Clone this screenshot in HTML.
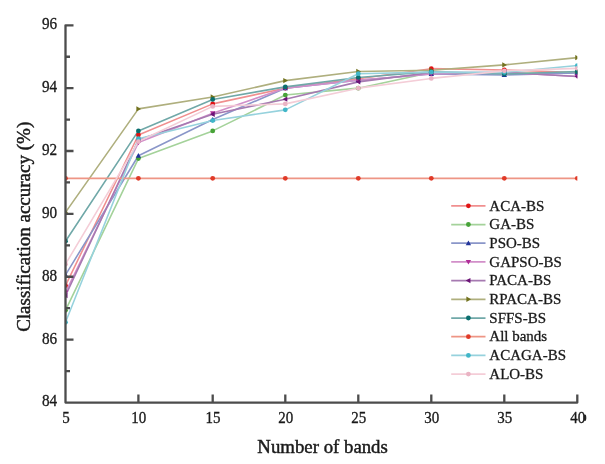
<!DOCTYPE html><html><head><meta charset="utf-8"><style>html,body{margin:0;padding:0;background:#fff;}svg{display:block;filter:blur(0.6px);}text{font-family:"Liberation Serif",serif;fill:#1a1a1a;stroke:#1a1a1a;stroke-width:0.3px;}</style></head><body>
<svg width="605" height="464" viewBox="0 0 605 464">
<rect width="605" height="464" fill="#fff"/>
<g clip-path="url(#c)">
<defs><clipPath id="c"><rect x="65.5" y="0" width="511.8" height="402.6"/></clipPath></defs>
<polyline points="65.50,285.54 138.40,134.99 212.70,103.88 285.30,88.16 358.30,78.73 431.30,68.67 504.30,69.93 577.30,72.44" fill="none" stroke="#f08f8f" stroke-width="1.6" stroke-linejoin="round"/>
<polyline points="65.50,310.37 138.40,158.56 212.70,130.90 285.30,95.07 358.30,88.16 431.30,72.44 504.30,73.39 577.30,72.44" fill="none" stroke="#a4d29a" stroke-width="1.6" stroke-linejoin="round"/>
<polyline points="65.50,274.85 138.40,155.73 212.70,119.59 285.30,88.16 358.30,80.30 431.30,74.02 504.30,74.96 577.30,73.07" fill="none" stroke="#8a96c9" stroke-width="1.6" stroke-linejoin="round"/>
<polyline points="65.50,292.45 138.40,142.53 212.70,113.30 285.30,88.16 358.30,80.30 431.30,74.02 504.30,72.44 577.30,76.53" fill="none" stroke="#d28fc9" stroke-width="1.6" stroke-linejoin="round"/>
<polyline points="65.50,295.60 138.40,140.02 212.70,114.25 285.30,99.16 358.30,81.87 431.30,72.44 504.30,72.44 577.30,76.53" fill="none" stroke="#a67ab1" stroke-width="1.6" stroke-linejoin="round"/>
<polyline points="65.50,212.31 138.40,108.90 212.70,96.96 285.30,80.62 358.30,71.50 431.30,70.24 504.30,64.90 577.30,57.67" fill="none" stroke="#afaf7e" stroke-width="1.6" stroke-linejoin="round"/>
<polyline points="65.50,241.22 138.40,130.90 212.70,99.47 285.30,86.90 358.30,77.47 431.30,71.82 504.30,74.02 577.30,71.50" fill="none" stroke="#70a8a8" stroke-width="1.6" stroke-linejoin="round"/>
<polyline points="65.50,178.36 138.40,178.36 212.70,178.36 285.30,178.36 358.30,178.36 431.30,178.36 504.30,178.36 577.30,178.36" fill="none" stroke="#ee9585" stroke-width="1.6" stroke-linejoin="round"/>
<polyline points="65.50,322.31 138.40,138.76 212.70,120.53 285.30,109.85 358.30,73.70 431.30,72.13 504.30,72.44 577.30,65.53" fill="none" stroke="#96d2dd" stroke-width="1.6" stroke-linejoin="round"/>
<polyline points="65.50,264.17 138.40,141.59 212.70,106.39 285.30,103.88 358.30,88.16 431.30,78.42 504.30,70.87 577.30,68.36" fill="none" stroke="#f4cdd7" stroke-width="1.6" stroke-linejoin="round"/>
<circle cx="65.50" cy="285.54" r="2.4" fill="#e01414"/>
<circle cx="138.40" cy="134.99" r="2.4" fill="#e01414"/>
<circle cx="212.70" cy="103.88" r="2.4" fill="#e01414"/>
<circle cx="285.30" cy="88.16" r="2.4" fill="#e01414"/>
<circle cx="358.30" cy="78.73" r="2.4" fill="#e01414"/>
<circle cx="431.30" cy="68.67" r="2.4" fill="#e01414"/>
<circle cx="504.30" cy="69.93" r="2.4" fill="#e01414"/>
<circle cx="577.30" cy="72.44" r="2.4" fill="#e01414"/>
<circle cx="65.50" cy="310.37" r="2.4" fill="#47a338"/>
<circle cx="138.40" cy="158.56" r="2.4" fill="#47a338"/>
<circle cx="212.70" cy="130.90" r="2.4" fill="#47a338"/>
<circle cx="285.30" cy="95.07" r="2.4" fill="#47a338"/>
<circle cx="358.30" cy="88.16" r="2.4" fill="#47a338"/>
<circle cx="431.30" cy="72.44" r="2.4" fill="#47a338"/>
<circle cx="504.30" cy="73.39" r="2.4" fill="#47a338"/>
<circle cx="577.30" cy="72.44" r="2.4" fill="#47a338"/>
<polygon points="65.50,272.15 62.80,276.88 68.20,276.88" fill="#22349a"/>
<polygon points="138.40,153.03 135.70,157.76 141.10,157.76" fill="#22349a"/>
<polygon points="212.70,116.89 210.00,121.61 215.40,121.61" fill="#22349a"/>
<polygon points="285.30,85.46 282.60,90.19 288.00,90.19" fill="#22349a"/>
<polygon points="358.30,77.60 355.60,82.33 361.00,82.33" fill="#22349a"/>
<polygon points="431.30,71.32 428.60,76.04 434.00,76.04" fill="#22349a"/>
<polygon points="504.30,72.26 501.60,76.98 507.00,76.98" fill="#22349a"/>
<polygon points="577.30,70.37 574.60,75.10 580.00,75.10" fill="#22349a"/>
<polygon points="65.50,295.15 62.80,290.43 68.20,290.43" fill="#b02c98"/>
<polygon points="138.40,145.23 135.70,140.51 141.10,140.51" fill="#b02c98"/>
<polygon points="212.70,116.00 210.00,111.28 215.40,111.28" fill="#b02c98"/>
<polygon points="285.30,90.86 282.60,86.13 288.00,86.13" fill="#b02c98"/>
<polygon points="358.30,83.00 355.60,78.28 361.00,78.28" fill="#b02c98"/>
<polygon points="431.30,76.72 428.60,71.99 434.00,71.99" fill="#b02c98"/>
<polygon points="504.30,75.14 501.60,70.42 507.00,70.42" fill="#b02c98"/>
<polygon points="577.30,79.23 574.60,74.51 580.00,74.51" fill="#b02c98"/>
<polygon points="62.80,295.60 67.53,292.90 67.53,298.30" fill="#6c1477"/>
<polygon points="135.70,140.02 140.43,137.32 140.43,142.72" fill="#6c1477"/>
<polygon points="210.00,114.25 214.72,111.55 214.72,116.95" fill="#6c1477"/>
<polygon points="282.60,99.16 287.32,96.46 287.32,101.86" fill="#6c1477"/>
<polygon points="355.60,81.87 360.32,79.17 360.32,84.57" fill="#6c1477"/>
<polygon points="428.60,72.44 433.32,69.74 433.32,75.14" fill="#6c1477"/>
<polygon points="501.60,72.44 506.32,69.74 506.32,75.14" fill="#6c1477"/>
<polygon points="574.60,76.53 579.32,73.83 579.32,79.23" fill="#6c1477"/>
<polygon points="68.20,212.31 63.48,209.61 63.48,215.01" fill="#72721e"/>
<polygon points="141.10,108.90 136.38,106.20 136.38,111.60" fill="#72721e"/>
<polygon points="215.40,96.96 210.67,94.26 210.67,99.66" fill="#72721e"/>
<polygon points="288.00,80.62 283.28,77.92 283.28,83.32" fill="#72721e"/>
<polygon points="361.00,71.50 356.28,68.80 356.28,74.20" fill="#72721e"/>
<polygon points="434.00,70.24 429.28,67.54 429.28,72.94" fill="#72721e"/>
<polygon points="507.00,64.90 502.28,62.20 502.28,67.60" fill="#72721e"/>
<polygon points="580.00,57.67 575.27,54.97 575.27,60.37" fill="#72721e"/>
<circle cx="65.50" cy="241.22" r="2.4" fill="#0a6e6e"/>
<circle cx="138.40" cy="130.90" r="2.4" fill="#0a6e6e"/>
<circle cx="212.70" cy="99.47" r="2.4" fill="#0a6e6e"/>
<circle cx="285.30" cy="86.90" r="2.4" fill="#0a6e6e"/>
<circle cx="358.30" cy="77.47" r="2.4" fill="#0a6e6e"/>
<circle cx="431.30" cy="71.82" r="2.4" fill="#0a6e6e"/>
<circle cx="504.30" cy="74.02" r="2.4" fill="#0a6e6e"/>
<circle cx="577.30" cy="71.50" r="2.4" fill="#0a6e6e"/>
<circle cx="65.50" cy="178.36" r="2.4" fill="#e03a28"/>
<circle cx="138.40" cy="178.36" r="2.4" fill="#e03a28"/>
<circle cx="212.70" cy="178.36" r="2.4" fill="#e03a28"/>
<circle cx="285.30" cy="178.36" r="2.4" fill="#e03a28"/>
<circle cx="358.30" cy="178.36" r="2.4" fill="#e03a28"/>
<circle cx="431.30" cy="178.36" r="2.4" fill="#e03a28"/>
<circle cx="504.30" cy="178.36" r="2.4" fill="#e03a28"/>
<circle cx="577.30" cy="178.36" r="2.4" fill="#e03a28"/>
<circle cx="65.50" cy="322.31" r="2.4" fill="#40b6c8"/>
<circle cx="138.40" cy="138.76" r="2.4" fill="#40b6c8"/>
<circle cx="212.70" cy="120.53" r="2.4" fill="#40b6c8"/>
<circle cx="285.30" cy="109.85" r="2.4" fill="#40b6c8"/>
<circle cx="358.30" cy="73.70" r="2.4" fill="#40b6c8"/>
<circle cx="431.30" cy="72.13" r="2.4" fill="#40b6c8"/>
<circle cx="504.30" cy="72.44" r="2.4" fill="#40b6c8"/>
<circle cx="577.30" cy="65.53" r="2.4" fill="#40b6c8"/>
<circle cx="65.50" cy="264.17" r="2.4" fill="#eab4c4"/>
<circle cx="138.40" cy="141.59" r="2.4" fill="#eab4c4"/>
<circle cx="212.70" cy="106.39" r="2.4" fill="#eab4c4"/>
<circle cx="285.30" cy="103.88" r="2.4" fill="#eab4c4"/>
<circle cx="358.30" cy="88.16" r="2.4" fill="#eab4c4"/>
<circle cx="431.30" cy="78.42" r="2.4" fill="#eab4c4"/>
<circle cx="504.30" cy="70.87" r="2.4" fill="#eab4c4"/>
<circle cx="577.30" cy="68.36" r="2.4" fill="#eab4c4"/>
</g>
<path d="M73.5,25.3 L65.5,25.3 L65.5,402.6 L577.3,402.6 L577.3,394.6 M65.5,339.60 L73.5,339.60 M65.5,276.74 L73.5,276.74 M65.5,213.88 L73.5,213.88 M65.5,151.02 L73.5,151.02 M65.5,88.16 L73.5,88.16 M65.5,371.03 L70.0,371.03 M65.5,308.17 L70.0,308.17 M65.5,245.31 L70.0,245.31 M65.5,182.45 L70.0,182.45 M65.5,119.59 L70.0,119.59 M65.5,56.73 L70.0,56.73 M138.4,402.6 L138.4,394.6 M212.7,402.6 L212.7,394.6 M285.3,402.6 L285.3,394.6 M358.3,402.6 L358.3,394.6 M431.3,402.6 L431.3,394.6 M504.3,402.6 L504.3,394.6" fill="none" stroke="#4c4c4c" stroke-width="2.3" stroke-linejoin="round" stroke-linecap="butt"/>
<text transform="translate(57.2,406.36) scale(1,1.08)" font-size="15.2" text-anchor="end">84</text>
<text transform="translate(57.2,343.50) scale(1,1.08)" font-size="15.2" text-anchor="end">86</text>
<text transform="translate(57.2,280.64) scale(1,1.08)" font-size="15.2" text-anchor="end">88</text>
<text transform="translate(57.2,217.78) scale(1,1.08)" font-size="15.2" text-anchor="end">90</text>
<text transform="translate(57.2,154.92) scale(1,1.08)" font-size="15.2" text-anchor="end">92</text>
<text transform="translate(57.2,92.06) scale(1,1.08)" font-size="15.2" text-anchor="end">94</text>
<text transform="translate(57.2,29.20) scale(1,1.08)" font-size="15.2" text-anchor="end">96</text>
<text transform="translate(65.9,422.9) scale(1,1.08)" font-size="15" text-anchor="middle">5</text>
<text transform="translate(138.8,422.9) scale(1,1.08)" font-size="15" text-anchor="middle">10</text>
<text transform="translate(213.1,422.9) scale(1,1.08)" font-size="15" text-anchor="middle">15</text>
<text transform="translate(285.7,422.9) scale(1,1.08)" font-size="15" text-anchor="middle">20</text>
<text transform="translate(358.7,422.9) scale(1,1.08)" font-size="15" text-anchor="middle">25</text>
<text transform="translate(431.7,422.9) scale(1,1.08)" font-size="15" text-anchor="middle">30</text>
<text transform="translate(504.7,422.9) scale(1,1.08)" font-size="15" text-anchor="middle">35</text>
<text transform="translate(577.6999999999999,422.9) scale(1,1.08)" font-size="15" text-anchor="middle">40</text>
<text transform="translate(322.6,452.6) scale(1.045,1)" font-size="18" text-anchor="middle" style="stroke-width:0.45px">Number of bands</text>
<text transform="translate(29.6,226.8) rotate(-90) scale(1.045,1)" x="0" y="0" font-size="18.2" text-anchor="middle" style="stroke-width:0.45px">Classification accuracy (%)</text>
<line x1="451.2" y1="205.80" x2="485.5" y2="205.80" stroke="#f08f8f" stroke-width="1.75"/>
<circle cx="468.40" cy="205.80" r="2.4" fill="#e01414"/>
<text x="489.3" y="210.50" font-size="15">ACA-BS</text>
<line x1="451.2" y1="224.50" x2="485.5" y2="224.50" stroke="#a4d29a" stroke-width="1.75"/>
<circle cx="468.40" cy="224.50" r="2.4" fill="#47a338"/>
<text x="489.3" y="229.20" font-size="15">GA-BS</text>
<line x1="451.2" y1="243.20" x2="485.5" y2="243.20" stroke="#8a96c9" stroke-width="1.75"/>
<polygon points="468.40,240.50 465.70,245.23 471.10,245.23" fill="#22349a"/>
<text x="489.3" y="247.90" font-size="15">PSO-BS</text>
<line x1="451.2" y1="261.90" x2="485.5" y2="261.90" stroke="#d28fc9" stroke-width="1.75"/>
<polygon points="468.40,264.60 465.70,259.88 471.10,259.88" fill="#b02c98"/>
<text x="489.3" y="266.60" font-size="15">GAPSO-BS</text>
<line x1="451.2" y1="280.60" x2="485.5" y2="280.60" stroke="#a67ab1" stroke-width="1.75"/>
<polygon points="465.70,280.60 470.42,277.90 470.42,283.30" fill="#6c1477"/>
<text x="489.3" y="285.30" font-size="15">PACA-BS</text>
<line x1="451.2" y1="299.30" x2="485.5" y2="299.30" stroke="#afaf7e" stroke-width="1.75"/>
<polygon points="471.10,299.30 466.38,296.60 466.38,302.00" fill="#72721e"/>
<text x="489.3" y="304.00" font-size="15">RPACA-BS</text>
<line x1="451.2" y1="318.00" x2="485.5" y2="318.00" stroke="#70a8a8" stroke-width="1.75"/>
<circle cx="468.40" cy="318.00" r="2.4" fill="#0a6e6e"/>
<text x="489.3" y="322.70" font-size="15">SFFS-BS</text>
<line x1="451.2" y1="336.70" x2="485.5" y2="336.70" stroke="#ee9585" stroke-width="1.75"/>
<circle cx="468.40" cy="336.70" r="2.4" fill="#e03a28"/>
<text x="489.3" y="341.40" font-size="15">All bands</text>
<line x1="451.2" y1="355.40" x2="485.5" y2="355.40" stroke="#96d2dd" stroke-width="1.75"/>
<circle cx="468.40" cy="355.40" r="2.4" fill="#40b6c8"/>
<text x="489.3" y="360.10" font-size="15">ACAGA-BS</text>
<line x1="451.2" y1="374.10" x2="485.5" y2="374.10" stroke="#f4cdd7" stroke-width="1.75"/>
<circle cx="468.40" cy="374.10" r="2.4" fill="#eab4c4"/>
<text x="489.3" y="378.80" font-size="15">ALO-BS</text>
<ellipse cx="585" cy="417.7" rx="1.3" ry="3.2" fill="#222"/>
</svg></body></html>
